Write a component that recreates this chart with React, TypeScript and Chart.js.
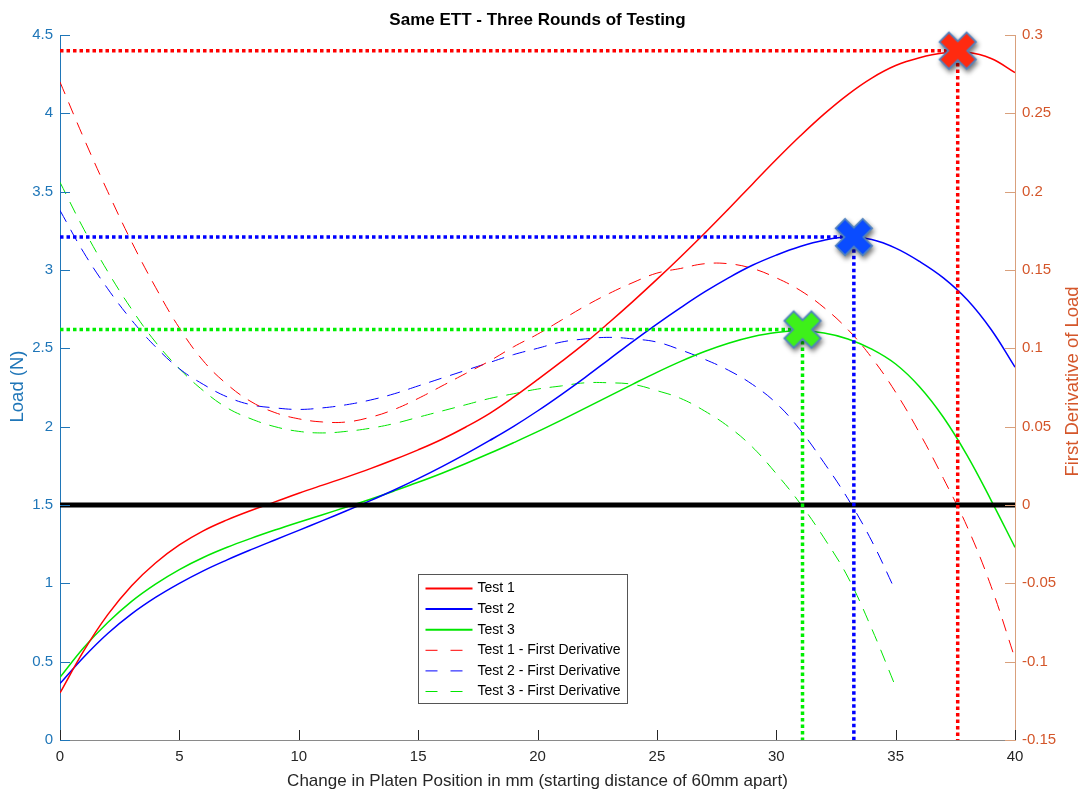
import React, { useEffect, useRef } from "react";
import { Chart, registerables } from "chart.js";

Chart.register(...registerables);

// ---------------- data ----------------
const positionMm = [0, 1, 2, 3, 4, 5, 6, 7, 8, 9, 10, 11, 12, 13, 14, 15, 16, 17, 18, 19, 20, 21, 22, 23, 24, 25, 26, 27, 28, 29, 30, 31, 32, 33, 34, 35, 36, 37, 38, 39, 40];
const test1Load = [0.30, 0.57, 0.80, 0.985, 1.13, 1.245, 1.335, 1.405, 1.465, 1.52, 1.575, 1.627, 1.678, 1.732, 1.79, 1.852, 1.92, 1.998, 2.085, 2.188, 2.30, 2.415, 2.535, 2.665, 2.80, 2.94, 3.085, 3.235, 3.39, 3.548, 3.705, 3.855, 3.995, 4.12, 4.225, 4.305, 4.355, 4.385, 4.39, 4.35, 4.26];
const test2Load = [0.36, 0.53, 0.68, 0.805, 0.91, 1.00, 1.08, 1.15, 1.215, 1.277, 1.338, 1.40, 1.463, 1.528, 1.596, 1.668, 1.745, 1.826, 1.912, 2.002, 2.10, 2.205, 2.315, 2.43, 2.545, 2.655, 2.76, 2.86, 2.95, 3.03, 3.095, 3.15, 3.19, 3.21, 3.195, 3.14, 3.055, 2.95, 2.81, 2.62, 2.38];
const test3Load = [0.40, 0.59, 0.75, 0.885, 0.995, 1.088, 1.165, 1.23, 1.287, 1.34, 1.39, 1.438, 1.487, 1.537, 1.59, 1.645, 1.703, 1.765, 1.83, 1.898, 1.968, 2.042, 2.118, 2.195, 2.272, 2.347, 2.417, 2.48, 2.533, 2.574, 2.601, 2.61, 2.598, 2.56, 2.495, 2.40, 2.255, 2.06, 1.815, 1.53, 1.23];

const test1DerivX = [0, 1, 2, 3, 4, 5, 6, 7, 8, 9, 10, 11, 12, 13, 14, 15, 16, 17, 18, 19, 20, 21, 22, 23, 24, 25, 26, 27, 28, 29, 30, 31, 32, 33, 34, 35, 36, 37, 38, 39, 40];
const test1Deriv = [0.270, 0.234, 0.200, 0.168, 0.139, 0.113, 0.092, 0.077, 0.066, 0.059, 0.055, 0.053, 0.053, 0.056, 0.061, 0.068, 0.076, 0.084, 0.092, 0.101, 0.109, 0.118, 0.127, 0.135, 0.142, 0.148, 0.151, 0.154, 0.154, 0.151, 0.145, 0.137, 0.126, 0.112, 0.094, 0.072, 0.046, 0.017, -0.014, -0.052, -0.098];
const test23DerivX = [0, 1, 2, 3, 4, 5, 6, 7, 8, 9, 10, 11, 12, 13, 14, 15, 16, 17, 18, 19, 20, 21, 22, 23, 24, 25, 26, 27, 28, 29, 30, 31, 32, 33, 34, 35];
const test2Deriv = [0.188, 0.161, 0.138, 0.118, 0.101, 0.087, 0.077, 0.069, 0.064, 0.062, 0.061, 0.062, 0.064, 0.067, 0.071, 0.076, 0.081, 0.086, 0.091, 0.096, 0.100, 0.104, 0.106, 0.107, 0.106, 0.104, 0.099, 0.093, 0.086, 0.077, 0.065, 0.048, 0.027, 0.004, -0.023, -0.055];
const test3Deriv = [0.206, 0.176, 0.149, 0.125, 0.104, 0.087, 0.073, 0.062, 0.055, 0.050, 0.047, 0.046, 0.047, 0.049, 0.052, 0.056, 0.060, 0.064, 0.068, 0.071, 0.074, 0.076, 0.078, 0.078, 0.077, 0.073, 0.068, 0.060, 0.050, 0.037, 0.020, 0.001, -0.021, -0.046, -0.079, -0.116];

const peakPositionMm = [37.6, 33.25, 31.1];
const peakLoad = [4.40, 3.21, 2.62];
const zeroLineX = [0, 40];
const zeroLineY = [0, 0];

const seriesNames = ["Test 1", "Test 2", "Test 3"];
const derivNames = ["Test 1 - First Derivative", "Test 2 - First Derivative", "Test 3 - First Derivative"];

const xTicks = [0, 5, 10, 15, 20, 25, 30, 35, 40];
const xTickLabels = ["0", "5", "10", "15", "20", "25", "30", "35", "40"];
const loadTicks = [0, 0.5, 1, 1.5, 2, 2.5, 3, 3.5, 4, 4.5];
const loadTickLabels = ["0", "0.5", "1", "1.5", "2", "2.5", "3", "3.5", "4", "4.5"];
const derivTicks = [-0.15, -0.1, -0.05, 0, 0.05, 0.1, 0.15, 0.2, 0.25, 0.3];
const derivTickLabels = ["-0.15", "-0.1", "-0.05", "0", "0.05", "0.1", "0.15", "0.2", "0.25", "0.3"];

const chartTitle = "Same ETT - Three Rounds of Testing";
const xTitle = "Change in Platen Position in mm (starting distance of 60mm apart)";
const yTitle = "Load (N)";
const y2Title = "First Derivative of Load";

// ---------------- styles ----------------
const COLORS = ["#ff0000", "#0000ff", "#00e600"];
const GUIDE_COLORS = ["#ff0000", "#0000ff", "#00ee00"];
const MARK_COLORS = ["#ff2a10", "#0a4cff", "#3ef01a"];
const LEFT_COLOR = "#1f76b8";
const RIGHT_COLOR = "#d4562a";
const RIGHT_AXIS_LINE = "#d9a07c";
const FONT = '"Liberation Sans", Arial, Helvetica, sans-serif';

const pts = (xs: number[], ys: number[]) => xs.map((x, i) => ({ x, y: ys[i] }));

function makeCross(fill: string): HTMLCanvasElement {
  const s = 54;
  const c = document.createElement("canvas");
  c.width = s;
  c.height = s;
  const g = c.getContext("2d")!;
  const cx = s / 2;
  const cy = s / 2;
  const diag = (half: number) => {
    const d = half / Math.SQRT2;
    g.beginPath();
    g.moveTo(cx - d, cy - d);
    g.lineTo(cx + d, cy + d);
    g.moveTo(cx + d, cy - d);
    g.lineTo(cx - d, cy + d);
  };
  g.lineCap = "butt";
  g.save();
  g.shadowColor = "rgba(0,0,0,0.55)";
  g.shadowBlur = 5;
  g.shadowOffsetX = 1.5;
  g.shadowOffsetY = 3;
  g.strokeStyle = "#4f82c0";
  g.lineWidth = 15;
  diag(20);
  g.stroke();
  g.restore();
  g.strokeStyle = fill;
  g.lineWidth = 11.5;
  diag(18.3);
  g.stroke();
  return c;
}

const inwardTicks = {
  id: "inwardTicks",
  afterDatasetsDraw(chart: any) {
    const ctx = chart.ctx;
    const a = chart.chartArea;
    const { x, y, y2 } = chart.scales;
    ctx.save();
    ctx.lineWidth = 1;
    ctx.strokeStyle = "#262626";
    x.ticks.forEach((t: any) => {
      const px = Math.round(x.getPixelForValue(t.value)) + 0.5;
      ctx.beginPath();
      ctx.moveTo(px, a.bottom);
      ctx.lineTo(px, a.bottom - 10);
      ctx.stroke();
    });
    ctx.strokeStyle = LEFT_COLOR;
    y.ticks.forEach((t: any) => {
      const py = Math.round(y.getPixelForValue(t.value)) + 0.5;
      ctx.beginPath();
      ctx.moveTo(a.left, py);
      ctx.lineTo(a.left + 10, py);
      ctx.stroke();
    });
    ctx.strokeStyle = RIGHT_AXIS_LINE;
    y2.ticks.forEach((t: any) => {
      const py = Math.round(y2.getPixelForValue(t.value)) + 0.5;
      ctx.beginPath();
      ctx.moveTo(a.right, py);
      ctx.lineTo(a.right - 10, py);
      ctx.stroke();
    });
    ctx.restore();
  },
};

const decor = {
  id: "decor",
  afterDraw(chart: any) {
    const ctx = chart.ctx;
    const a = chart.chartArea;
    const midX = (a.left + a.right) / 2;
    const midY = (a.top + a.bottom) / 2;
    ctx.save();
    ctx.textAlign = "center";
    ctx.textBaseline = "middle";
    ctx.fillStyle = "#000";
    ctx.font = `bold 17px ${FONT}`;
    ctx.fillText(chartTitle, midX, a.top - 15);

    ctx.fillStyle = "#262626";
    ctx.font = `17px ${FONT}`;
    ctx.fillText(xTitle, midX, a.bottom + 41);

    ctx.font = `18.5px ${FONT}`;
    ctx.save();
    ctx.translate(a.left - 42, midY - 1);
    ctx.rotate(-Math.PI / 2);
    ctx.fillStyle = LEFT_COLOR;
    ctx.fillText(yTitle, 0, 0);
    ctx.restore();

    ctx.save();
    ctx.translate(a.right + 58, midY - 6);
    ctx.rotate(-Math.PI / 2);
    ctx.fillStyle = RIGHT_COLOR;
    ctx.fillText(y2Title, 0, 0);
    ctx.restore();

    // legend
    const bx = Math.round(a.left + 358) + 0.5;
    const by = Math.round(a.top + 539) + 0.5;
    const bw = 209;
    const bh = 129;
    ctx.fillStyle = "#fff";
    ctx.fillRect(bx, by, bw, bh);
    ctx.strokeStyle = "#555";
    ctx.lineWidth = 1;
    ctx.strokeRect(bx, by, bw, bh);
    ctx.font = `14px ${FONT}`;
    ctx.textAlign = "left";
    for (let i = 0; i < 6; i++) {
      const ds = chart.data.datasets[i];
      const ry = by + 14 + i * 20.6;
      ctx.save();
      ctx.strokeStyle = ds.borderColor;
      ctx.lineWidth = i < 3 ? 2 : 1;
      ctx.setLineDash(i < 3 ? [] : [12, 13]);
      ctx.beginPath();
      ctx.moveTo(bx + 7, ry);
      ctx.lineTo(bx + 54, ry);
      ctx.stroke();
      ctx.restore();
      ctx.fillStyle = "#000";
      ctx.fillText(ds.label, bx + 59, ry);
    }
    ctx.restore();
  },
};

export default function App() {
  const ref = useRef<HTMLCanvasElement | null>(null);

  useEffect(() => {
    if (!ref.current) return;
    const loads = [test1Load, test2Load, test3Load];
    const derivs = [test1Deriv, test2Deriv, test3Deriv];
    const derivXs = [test1DerivX, test23DerivX, test23DerivX];

    const datasets: any[] = [];
    loads.forEach((ys, i) => {
      datasets.push({
        label: seriesNames[i],
        data: pts(positionMm, ys),
        yAxisID: "y",
        borderColor: COLORS[i],
        borderWidth: 1.5,
        pointRadius: 0,
        tension: 0.4,
        order: 3,
      });
    });
    derivs.forEach((ys, i) => {
      datasets.push({
        label: derivNames[i],
        data: pts(derivXs[i], ys),
        yAxisID: "y2",
        borderColor: COLORS[i],
        borderWidth: 1,
        borderDash: [13, 9],
        pointRadius: 0,
        tension: 0.4,
        order: 4,
      });
    });
    datasets.push({
      label: "zero",
      data: pts(zeroLineX, zeroLineY),
      yAxisID: "y2",
      borderColor: "#000",
      borderWidth: 5,
      pointRadius: 0,
      order: 2,
    });
    peakPositionMm.forEach((px, i) => {
      datasets.push({
        label: "peak-guide",
        data: [
          { x: 0, y: peakLoad[i] },
          { x: px, y: peakLoad[i] },
          { x: px, y: 0 },
        ],
        yAxisID: "y",
        borderColor: GUIDE_COLORS[i],
        borderWidth: 3.5,
        borderDash: [3.5, 3],
        pointRadius: 0,
        tension: 0,
        order: 1,
      });
    });
    peakPositionMm.forEach((px, i) => {
      datasets.push({
        label: "peak-mark",
        data: [{ x: px, y: peakLoad[i] }],
        yAxisID: "y",
        showLine: false,
        pointStyle: makeCross(MARK_COLORS[i]),
        pointRadius: 20,
        clip: false,
        order: 0,
      });
    });

    const chart = new Chart(ref.current, {
      type: "line",
      data: { datasets },
      options: {
        responsive: false,
        animation: false,
        layout: { padding: { top: 35, left: 0, right: 0, bottom: 0 } },
        plugins: {
          legend: { display: false },
          tooltip: { enabled: false },
          title: { display: false },
        },
        scales: {
          x: {
            type: "linear",
            position: "bottom",
            min: 0,
            max: 40,
            afterBuildTicks: (s: any) => {
              s.ticks = xTicks.map((v) => ({ value: v }));
            },
            afterFit: (s: any) => {
              s.height = 53;
            },
            ticks: {
              padding: 8,
              color: "#262626",
              font: { family: FONT, size: 15 },
              callback: (_v: any, i: number) => xTickLabels[i],
            },
            grid: { display: false, drawTicks: false },
            border: { display: true, color: "#8a8a8a", width: 1 },
          },
          y: {
            type: "linear",
            position: "left",
            min: 0,
            max: 4.5,
            afterBuildTicks: (s: any) => {
              s.ticks = loadTicks.map((v) => ({ value: v }));
            },
            afterFit: (s: any) => {
              s.width = 60;
            },
            ticks: {
              padding: 7,
              color: LEFT_COLOR,
              font: { family: FONT, size: 15 },
              callback: (_v: any, i: number) => loadTickLabels[i],
            },
            grid: { display: false, drawTicks: false },
            border: { display: true, color: LEFT_COLOR, width: 1 },
          },
          y2: {
            type: "linear",
            position: "right",
            min: -0.15,
            max: 0.3,
            afterBuildTicks: (s: any) => {
              s.ticks = derivTicks.map((v) => ({ value: v }));
            },
            afterFit: (s: any) => {
              s.width = 66;
            },
            ticks: {
              padding: 7,
              color: RIGHT_COLOR,
              font: { family: FONT, size: 15 },
              callback: (_v: any, i: number) => derivTickLabels[i],
            },
            grid: { display: false, drawTicks: false },
            border: { display: true, color: RIGHT_AXIS_LINE, width: 1 },
          },
        },
      } as any,
      plugins: [inwardTicks, decor],
    });
    return () => chart.destroy();
  }, []);

  return (
    <div style={{ position: "fixed", left: 0, top: 0, width: 1081, height: 793, background: "#fff" }}>
      <canvas
        ref={ref}
        width={1081}
        height={793}
        style={{ display: "block", width: 1081, height: 793 }}
      />
    </div>
  );
}
